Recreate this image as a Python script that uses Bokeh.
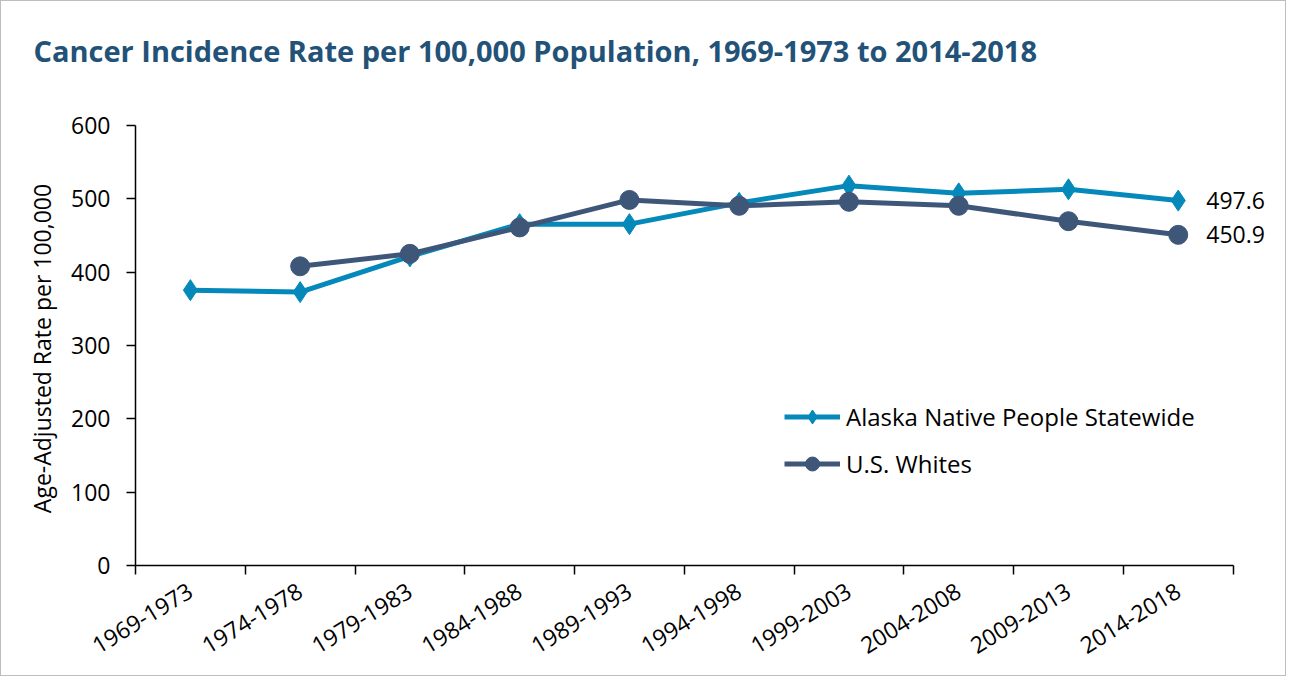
import numpy as np
from bokeh.plotting import figure
from bokeh.models import (Range1d, FixedTicker, Legend, LegendItem, Title,
                          ColumnDataSource, Label)
from bokeh.embed import file_html
from bokeh.resources import INLINE

# ---- data ----
periods = ["1969-1973", "1974-1978", "1979-1983", "1984-1988", "1989-1993",
           "1994-1998", "1999-2003", "2004-2008", "2009-2013", "2014-2018"]
alaska_native = [375.5, 372.8, 421.5, 465.5, 465.5, 494.5, 518.0, 507.5, 513.0, 497.6]
us_whites = [None, 408.0, 425.0, 461.0, 498.5, 490.5, 496.0, 490.5, 469.5, 450.9]
y_ticks = [0, 100, 200, 300, 400, 500, 600]

title_text = "Cancer Incidence Rate per 100,000 Population, 1969-1973 to 2014-2018"
y_label = "Age-Adjusted  Rate per 100,000"
name_an = "Alaska Native People Statewide"
name_us = "U.S. Whites"

C_AN = "#0589BB"
C_US = "#3E5779"
C_TITLE = "#235278"
FONT = "Open Sans"

n = len(periods)
xc = [i + 0.5 for i in range(n)]

p = figure(width=1286, height=676, output_backend="svg", toolbar_location=None,
           x_range=Range1d(0, n + 0.45), y_range=Range1d(0, 600),
           min_border_left=134, min_border_right=5, min_border_bottom=112,
           min_border_top=5)
p.outline_line_color = None
p.xgrid.grid_line_color = None
p.ygrid.grid_line_color = None
p.styles = {"border": "1px solid #bdbdbd"}

p.title = Title(text=title_text, align="left", offset=-102, vertical_align="top",
                text_font=FONT, text_font_style="bold", text_font_size="29px",
                text_color=C_TITLE, standoff=58)
# blank spacer between the title and the plot area
p.add_layout(Title(text=" ", text_font_size="10px", standoff=12), "above")

# x axis
xa = p.xaxis[0]
xa.bounds = (0, n)
xa.ticker = FixedTicker(ticks=xc, minor_ticks=list(range(n + 1)))
xa.major_label_overrides = {x: lab for x, lab in zip(xc, periods)}
xa.major_tick_out = 0
xa.major_tick_in = 0
xa.minor_tick_out = 9
xa.minor_tick_in = 0
xa.minor_tick_line_color = "black"
xa.minor_tick_line_width = 1.5
xa.axis_line_color = "black"
xa.axis_line_width = 1.5
xa.major_label_orientation = 0.55
xa.major_label_text_font = FONT
xa.major_label_text_font_size = "23px"
xa.major_label_text_color = "black"
xa.major_label_standoff = 14

# y axis
ya = p.yaxis[0]
ya.ticker = FixedTicker(ticks=y_ticks)
ya.minor_tick_line_color = None
ya.major_tick_out = 9
ya.major_tick_in = 0
ya.major_tick_line_color = "black"
ya.major_tick_line_width = 1.5
ya.axis_line_color = "black"
ya.axis_line_width = 1.5
ya.major_label_text_font = FONT
ya.major_label_text_font_size = "23px"
ya.major_label_text_color = "black"
ya.major_label_standoff = 16
ya.axis_label = y_label
ya.axis_label_text_font = FONT
ya.axis_label_text_font_size = "23px"
ya.axis_label_text_font_style = "normal"
ya.axis_label_text_color = "black"
ya.axis_label_standoff = 10

# series
src_an = ColumnDataSource(dict(x=xc, y=alaska_native))
us_x = [x for x, v in zip(xc, us_whites) if v is not None]
us_y = [v for v in us_whites if v is not None]
src_us = ColumnDataSource(dict(x=us_x, y=us_y))

l_an = p.line("x", "y", source=src_an, line_color=C_AN, line_width=5)
m_an = p.scatter("x", "y", source=src_an, marker="diamond", size=21,
                 fill_color=C_AN, line_color=C_AN)
l_us = p.line("x", "y", source=src_us, line_color=C_US, line_width=5)
m_us = p.scatter("x", "y", source=src_us, marker="circle", size=19,
                 fill_color=C_US, line_color=C_US)

# end labels
for xv, yv in [(xc[-1], alaska_native[-1]), (us_x[-1], us_y[-1])]:
    p.add_layout(Label(x=xv, y=yv, text=f"{yv:.1f}", x_offset=28,
                       text_baseline="middle", text_font=FONT,
                       text_font_size="23px", text_color="black"))

legend = Legend(items=[LegendItem(label=name_an, renderers=[l_an, m_an]),
                       LegendItem(label=name_us, renderers=[l_us, m_us])],
                location=(649, 84), orientation="vertical",
                glyph_width=56, glyph_height=35, spacing=12, padding=0,
                margin=0, label_standoff=6, border_line_color=None,
                background_fill_alpha=0, label_text_font=FONT,
                label_text_font_size="24px", label_text_color="black")
p.add_layout(legend, "center")

open("out.html", "w").write(file_html(p, INLINE))
